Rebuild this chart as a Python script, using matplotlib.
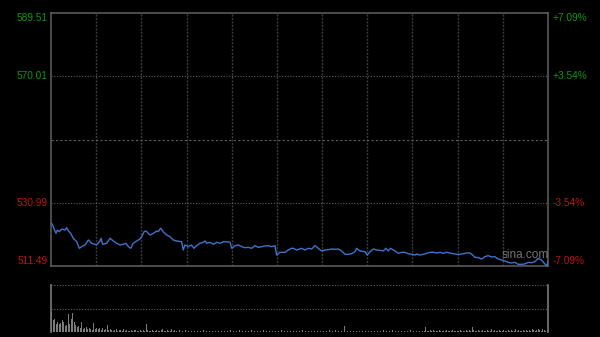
import matplotlib
matplotlib.use("Agg")
import matplotlib.pyplot as plt
import numpy as np

# previous close and the price range shown
prev_close = 550.25
y_low, y_high = 511.49, 589.51
left_ticks = [589.51, 570.01, 530.99, 511.49]
right_labels = ["+7.09%", "+3.54%", "-3.54%", "-7.09%"]

# intraday price (minute index, price)
minutes = [0.4, 1.5, 3.3, 4.2, 5.5, 7.1, 9.3, 10.4, 11.5, 13.1, 14.8, 17.1, 18.8, 20.4,
           22.6, 24.8, 27.0, 29.2, 30.3, 32.5, 33.2, 34.3, 37.0, 39.2, 41.4, 43.6, 45.8,
           48.0, 49.8, 51.4, 53.0, 54.6, 56.9, 59.1, 60.2, 61.8, 63.1, 65.7, 68.0, 70.2,
           71.2, 72.8, 74.5, 76.8, 79.0, 81.2, 83.4, 86.7, 87.8, 88.9, 91.1, 93.3, 94.9,
           96.7, 98.9, 101.1, 102.3, 103.4, 105.6, 107.8, 110.0, 112.2, 114.4, 116.7,
           118.9, 120.0, 122.2, 124.4, 126.6, 128.8, 131.0, 133.2, 135.4, 137.6, 139.9,
           142.1, 144.3, 146.5, 148.7, 149.8, 152.0, 155.4, 157.5, 159.7, 160.9, 163.1,
           166.4, 168.7, 170.9, 173.1, 175.3, 177.5, 179.7, 181.9, 184.1, 186.3, 188.6,
           190.8, 193.0, 195.2, 197.4, 199.6, 201.8, 202.9, 205.2, 208.5, 210.0, 211.8,
           214.0, 216.2, 218.4, 220.6, 222.4, 223.9, 225.5, 228.4, 230.6, 232.8, 235.0,
           237.2, 239.4, 241.7, 242.8, 245.0, 247.2, 249.4, 251.7, 253.9, 256.1, 258.3,
           260.5, 262.7, 264.9, 267.1, 269.3, 271.5, 273.7, 276.0, 278.2, 279.9, 281.5,
           283.7, 285.9, 288.1, 290.3, 292.5, 294.7, 296.9, 299.2, 301.4, 303.6, 305.8,
           308.0, 310.2, 312.4, 314.6, 316.8, 319.1, 321.3, 323.5, 325.7, 327.9, 329.4, 330.0]
prices = [524.66, 523.61, 521.57, 522.59, 522.07, 522.90, 522.59, 523.30, 522.28, 521.57,
          520.03, 518.98, 516.95, 517.45, 517.97, 519.51, 518.49, 518.18, 517.97, 519.20,
          520.03, 518.18, 518.49, 520.03, 519.20, 518.49, 517.97, 518.18, 518.49, 517.45,
          516.95, 518.49, 519.20, 519.82, 520.53, 522.07, 522.28, 521.05, 521.57, 522.28,
          522.07, 523.12, 522.07, 521.05, 520.53, 519.51, 519.20, 518.98, 516.42, 517.97,
          517.45, 517.97, 516.95, 517.76, 518.49, 518.80, 519.20, 518.49, 518.80, 518.18,
          518.80, 518.49, 518.98, 518.98, 518.80, 516.95, 517.76, 517.97, 517.45, 517.14,
          517.24, 516.95, 517.76, 517.24, 517.45, 517.66, 517.76, 517.45, 517.76, 514.88,
          515.71, 515.71, 516.42, 516.95, 516.95, 516.42, 516.95, 516.42, 516.95, 516.73,
          517.76, 516.95, 516.12, 516.42, 516.52, 516.73, 516.63, 516.73, 516.12, 515.09,
          515.09, 515.29, 515.90, 516.95, 516.12, 515.90, 514.88, 515.90, 516.73, 516.42,
          516.32, 516.12, 516.95, 516.12, 516.95, 516.12, 515.40, 515.71, 515.71, 515.29,
          515.09, 514.88, 515.19, 514.88, 515.09, 515.40, 515.71, 515.71, 515.50, 515.71,
          515.40, 515.71, 515.50, 515.29, 515.09, 515.09, 515.29, 515.50, 515.50, 514.88,
          514.17, 514.06, 513.65, 514.37, 514.68, 514.27, 514.37, 513.65, 513.34, 513.03,
          512.62, 512.42, 512.62, 512.01, 512.01, 512.11, 512.62, 512.52, 512.83, 513.85,
          513.34, 512.11, 511.60, 512.83]

# per-minute volume (relative units)
volumes = [20, 12, 13, 8, 10, 8, 9, 12, 10, 6, 7, 18, 8, 13, 19, 10, 7, 5, 6, 4, 10, 3, 4, 5, 3, 4, 3, 2, 9, 3,
           4, 3, 4, 2, 4, 2, 3, 7, 2, 3, 2, 1, 2, 3, 1, 2, 2, 1, 3, 1, 2, 1, 1, 2, 1, 2, 2, 1, 1, 2,
           1, 2, 1, 8, 2, 1, 1, 2, 1, 1, 2, 1, 1, 2, 3, 1, 1, 2, 1, 1, 3, 1, 2, 1, 1, 2, 1, 1, 1, 2,
           1, 1, 2, 1, 1, 1, 2, 1, 1, 1, 1, 2, 1, 1, 1, 1, 2, 1, 1, 1, 1, 1, 2, 1, 1, 1, 1, 1, 1, 2,
           1, 1, 1, 1, 1, 2, 1, 1, 1, 1, 1, 1, 1, 2, 1, 1, 1, 1, 1, 1, 1, 2, 1, 1, 1, 1, 1, 1, 1, 1,
           18, 1, 1, 2, 1, 1, 1, 1, 1, 1, 2, 1, 1, 1, 1, 1, 1, 2, 1, 1, 1, 1, 2, 1, 1, 1, 1, 1, 2, 1,
           1, 1, 2, 1, 1, 2, 1, 1, 1, 2, 1, 1, 1, 1, 2, 6, 1, 1, 2, 1, 1, 1, 2, 1, 2, 1, 1, 1, 2, 1,
           1, 1, 1, 1, 2, 1, 1, 1, 1, 1, 1, 2, 1, 1, 1, 1, 1, 2, 1, 1, 1, 1, 1, 1, 2, 1, 1, 1, 1, 2,
           1, 1, 2, 1, 1, 1, 2, 1, 1, 5, 1, 1, 2, 1, 2, 1, 1, 1, 2, 1, 1, 1, 1, 2, 1, 1, 1, 2, 1, 1,
           1, 1, 2, 1, 1, 1, 2, 1, 2, 1, 5, 2, 1, 1, 2, 1, 1, 2, 1, 1, 2, 1, 1, 3, 1, 2, 1, 1, 2, 1,
           1, 2, 1, 1, 2, 1, 2, 1, 1, 3, 1, 2, 1, 1, 2, 1, 2, 1, 2, 1, 3, 2, 1, 2, 3, 2, 1, 3, 2, 1,
           2]

W, H = 600, 337
fig = plt.figure(figsize=(W / 100, H / 100), dpi=100, facecolor="black")
plt.rcParams["font.family"] = ["Liberation Sans", "DejaVu Sans"]

ax = fig.add_axes([51 / W, 1 - 266 / H, 497 / W, 253 / H], facecolor="black")
ax.plot(minutes, prices, color="#3f72c8", lw=1.0, zorder=3)
ax.set_xlim(0, 330)
ax.set_ylim(y_low, y_high)
ax.set_xticks([])
ax.set_yticks([])
for s in ax.spines.values():
    s.set_color("#5a5a5a")
    s.set_linewidth(1.2)

# vertical grid every 30 minutes
for m in range(30, 330, 30):
    ax.axvline(m, color="#3c3c3c", lw=1, ls=(0, (1.5, 1)))
# horizontal grid
for v in [570.01, 530.99]:
    ax.axhline(v, color="#5e5e5e", lw=0.8, ls=(0, (1, 1.5)))
ax.axhline((y_low + y_high) / 2, color="#5e5e5e", lw=0.8, ls=(0, (2, 2)))

# axis labels
colors = ["#139413", "#139413", "#c01212", "#c01212"]
vas = ["top", "center", "center", "bottom"]
for v, lab, c, va in zip(left_ticks, right_labels, colors, vas):
    ax.text(-0.007, v, f"{v:.2f}", transform=ax.get_yaxis_transform(), ha="right",
            va=va, color=c, fontsize=7.3)
    ax.text(1.009, v, lab, transform=ax.get_yaxis_transform(), ha="left",
            va=va, color=c, fontsize=7.3)

ax.text(0.955, 0.02, "sina.com", transform=ax.transAxes, ha="center", va="bottom",
        color="#9a9a9a", fontsize=8.5, alpha=0.75, zorder=4)

# volume panel
vx = fig.add_axes([51 / W, 1 - 332 / H, 497 / W, 47 / H], facecolor="black")
vx.bar(np.arange(len(volumes)), volumes, width=0.5, color="#7c7c7c")
vx.set_xlim(-0.5, 330.5)
vx.set_ylim(0, 47)
vx.set_xticks([])
vx.set_yticks([])
for name in ["top", "bottom"]:
    vx.spines[name].set_visible(False)
for name in ["left", "right"]:
    vx.spines[name].set_color("#7a7a7a")
    vx.spines[name].set_linewidth(1.2)
for v in [47, 23.5]:
    vx.axhline(v, color="#5e5e5e", lw=0.8, ls=(0, (1, 1.5)))

fig.savefig("out.png", dpi=100, facecolor="black")
